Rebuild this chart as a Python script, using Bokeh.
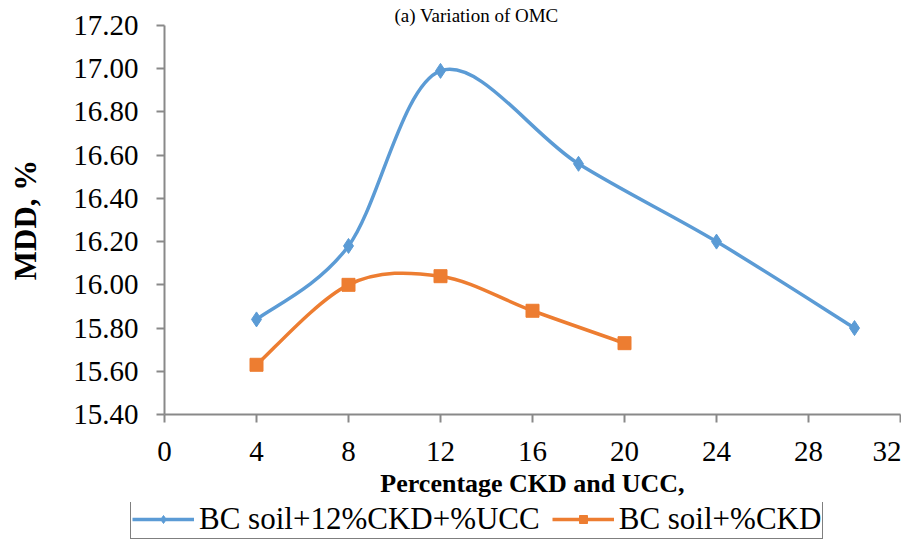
import numpy as np
from bokeh.plotting import figure
from bokeh.layouts import column
from bokeh.models import (Range1d, FixedTicker, NumeralTickFormatter, Legend,
                          LegendItem, ColumnDataSource)
from bokeh.embed import file_html
from bokeh.resources import INLINE

# ---- data ----
ucc_x = [4, 8, 12, 18, 24, 30]
ucc_y = [15.84, 16.18, 16.99, 16.56, 16.20, 15.80]
ckd_x = [4, 8, 12, 16, 20]
ckd_y = [15.63, 16.00, 16.04, 15.88, 15.73]
x_ticks = [0, 4, 8, 12, 16, 20, 24, 28, 32]
y_ticks = [15.4, 15.6, 15.8, 16.0, 16.2, 16.4, 16.6, 16.8, 17.0, 17.2]
name_ucc = "BC soil+12%CKD+%UCC"
name_ckd = "BC soil+%CKD"
title_text = "(a) Variation of OMC"

BLUE = "#5B9BD5"
ORANGE = "#ED7D31"
AXIS = "#898989"
FONT = "Liberation Serif"


def smooth_segments(xs, ys):
    """Excel-like smoothed line: cubic Bezier per segment (Catmull-Rom control points)."""
    x = np.asarray(xs, float)
    y = np.asarray(ys, float)
    n = len(x)
    d = dict(x0=[], y0=[], x1=[], y1=[], cx0=[], cy0=[], cx1=[], cy1=[])
    for i in range(n - 1):
        xp, yp = (x[i - 1], y[i - 1]) if i > 0 else (x[i], y[i])
        xn, yn = (x[i + 2], y[i + 2]) if i + 2 < n else (x[i + 1], y[i + 1])
        d["x0"].append(x[i]); d["y0"].append(y[i])
        d["x1"].append(x[i + 1]); d["y1"].append(y[i + 1])
        d["cx0"].append(x[i] + (x[i + 1] - xp) / 6); d["cy0"].append(y[i] + (y[i + 1] - yp) / 6)
        d["cx1"].append(x[i + 1] - (xn - x[i]) / 6); d["cy1"].append(y[i + 1] - (yn - y[i]) / 6)
    return ColumnDataSource(d)


def draw_series(fig, visible=True):
    b1 = fig.bezier(x0="x0", y0="y0", x1="x1", y1="y1", cx0="cx0", cy0="cy0", cx1="cx1", cy1="cy1",
                    source=smooth_segments(ucc_x, ucc_y), line_color=BLUE, line_width=3.5,
                    visible=visible)
    b2 = fig.bezier(x0="x0", y0="y0", x1="x1", y1="y1", cx0="cx0", cy0="cy0", cx1="cx1", cy1="cy1",
                    source=smooth_segments(ckd_x, ckd_y), line_color=ORANGE, line_width=3.5,
                    visible=visible)
    s1 = fig.scatter(ucc_x, ucc_y, marker="diamond", size=15, fill_color=BLUE,
                     line_color=BLUE, visible=visible)
    s2 = fig.scatter(ckd_x, ckd_y, marker="square", size=13, fill_color=ORANGE,
                     line_color=ORANGE, visible=visible)
    return b1, b2, s1, s2


TOP_H = 502
p = figure(width=901, height=TOP_H, output_backend="svg", toolbar_location=None,
           x_range=Range1d(0, 32), y_range=Range1d(15.4, 17.2),
           min_border_left=164, min_border_right=1, min_border_top=25,
           min_border_bottom=TOP_H - 414)
p.outline_line_color = None
p.xgrid.visible = False
p.ygrid.visible = False
p.background_fill_color = "white"
p.border_fill_color = "white"

p.title.text = title_text
p.title.text_font = FONT
p.title.text_font_size = "19px"
p.title.text_font_style = "normal"
p.title.text_color = "black"
p.title.align = "left"
p.title.offset = 230
p.title.standoff = 0

for ax in (p.xaxis[0], p.yaxis[0]):
    ax.axis_line_color = AXIS
    ax.axis_line_width = 2
    ax.major_tick_line_color = AXIS
    ax.major_tick_line_width = 2
    ax.major_tick_in = 0
    ax.major_tick_out = 8
    ax.minor_tick_line_color = None
    ax.major_label_text_font = FONT
    ax.major_label_text_font_size = "29px"
    ax.major_label_text_color = "black"
    ax.axis_label_text_font = FONT
    ax.axis_label_text_font_style = "bold"
    ax.axis_label_text_color = "black"

p.xaxis.ticker = FixedTicker(ticks=x_ticks)
p.yaxis.ticker = FixedTicker(ticks=y_ticks)
p.yaxis.formatter = NumeralTickFormatter(format="0.00")
p.xaxis.major_label_standoff = 19
p.yaxis.major_label_standoff = 18
p.xaxis.axis_label = "Percentage CKD and UCC,"
p.xaxis.axis_label_text_font_size = "26px"
p.xaxis.axis_label_standoff = 5
p.yaxis.axis_label = "MDD, %"
p.yaxis.axis_label_text_font_size = "31px"
p.yaxis.axis_label_standoff = 27

draw_series(p)

# ---- legend strip (separate figure so the legend is not clipped) ----
LEG_H = 539 - TOP_H
lf = figure(width=901, height=LEG_H, output_backend="svg", toolbar_location=None,
            x_range=Range1d(0, 32), y_range=Range1d(15.4, 17.2),
            x_axis_location=None, y_axis_location=None,
            min_border_left=0, min_border_right=0, min_border_top=0, min_border_bottom=0)
if "frame_align" in lf.properties():
    lf.frame_align = False
lf.outline_line_color = None
lf.xgrid.visible = False
lf.ygrid.visible = False
lb1, lb2, ls1, ls2 = draw_series(lf, visible=False)

legend = Legend(items=[LegendItem(label=name_ucc, renderers=[lb1, ls1]),
                       LegendItem(label=name_ckd, renderers=[lb2, ls2])],
                orientation="horizontal", location=(130, 0),
                label_text_font=FONT, label_text_font_size="31px",
                label_text_line_height=1.0,
                label_text_color="black", glyph_width=62, glyph_height=20,
                label_height=20,
                label_standoff=5, spacing=12, padding=1, margin=0,
                border_line_color="black", border_line_width=1.5,
                background_fill_color="white", background_fill_alpha=1)
lf.add_layout(legend, "center")

layout = column(p, lf, spacing=0)
open("out.html", "w").write(file_html(layout, INLINE))
